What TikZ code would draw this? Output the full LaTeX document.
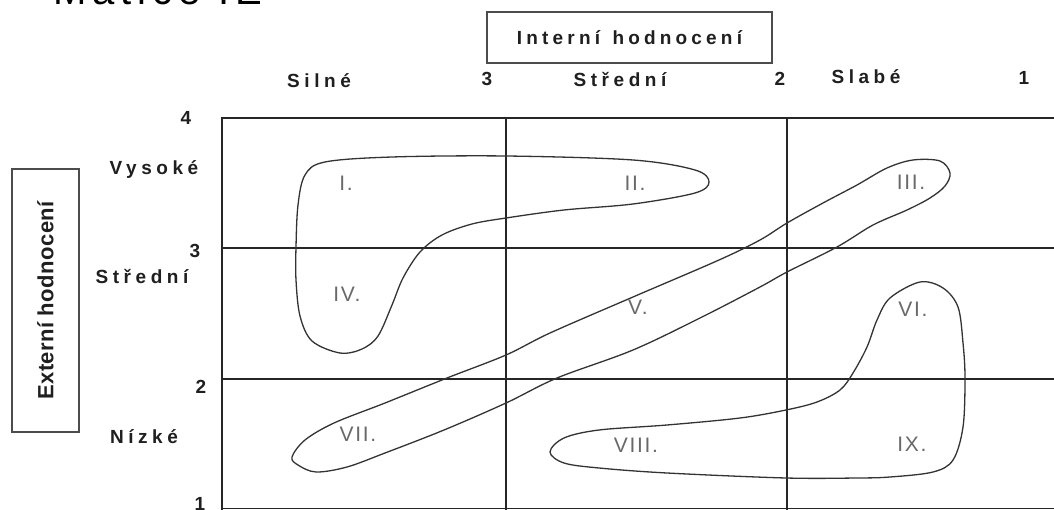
\documentclass[tikz,border=0pt]{standalone}
\usepackage{fontspec}
\setmainfont{Liberation Sans}
\newfontfamily\lsp[LetterSpace=24]{Liberation Sans}
\newfontfamily\lspb[LetterSpace=22]{Liberation Sans}
\newfontfamily\lspr[LetterSpace=8]{Liberation Sans}
\newfontfamily\lspe[LetterSpace=2]{Liberation Sans}
\newfontfamily\lsptitle[LetterSpace=15]{Liberation Sans}
\definecolor{romgray}{RGB}{105,105,105}
\begin{document}
\begin{tikzpicture}[x=1pt,y=-1pt,
  gridline/.style={line width=1.3pt, draw=black!85},
  blob/.style={line width=1.3pt, draw=black!80},
  axislab/.style={font=\lsp\bfseries\fontsize{19}{21}\selectfont, text=black!88, inner sep=0},
  axisnum/.style={font=\bfseries\fontsize{19}{21}\selectfont, text=black!88, inner sep=0},
  roman/.style={font=\lspr\fontsize{21}{24}\selectfont, text=romgray, inner sep=0},
  labelbox/.style={draw=black!70, line width=1.2pt, inner sep=0},
]
\useasboundingbox (0,0) rectangle (1054,510);
\fill[white] (0,0) rectangle (1054,510);

% title (clipped at the top edge, as in the reference)
\node[anchor=base west, font=\lsptitle\fontsize{40}{44}\selectfont, inner sep=0] (title) at (53,5) {Matice IE};

% grid
\draw[gridline] (1054,118) -- (222,118) -- (222,510);
\draw[gridline] (222,248) -- (1054,248);
\draw[gridline] (222,379) -- (1054,379);
\draw[gridline] (222,508.5) -- (1054,508.5);
\draw[gridline] (506,118) -- (506,510);
\draw[gridline] (787,118) -- (787,510);

% axis boxes
\node[labelbox, minimum width=285, minimum height=51,
      font=\lspb\bfseries\fontsize{19}{21}\selectfont, text=black!88] (ih) at (629.5,37.5) {Interní\hspace{3pt} hodnocení};
\node[labelbox, rotate=90, minimum width=263, minimum height=67,
      font=\lspe\bfseries\fontsize{22}{24}\selectfont, text=black!88] (eh) at (45.5,300.5) {Externí hodnocení};

% top axis labels
\node[axislab] (silne) at (319,81) {Silné};
\node[axisnum] (t3) at (487,79) {3};
\node[axislab] (stredt) at (620,80) {Střední};
\node[axisnum] (t2) at (780,79) {2};
\node[axislab] (slabe) at (866,77) {Slabé};
\node[axisnum] (t1) at (1024,78) {1};

% left axis labels
\node[axisnum] (l4) at (186,118) {4};
\node[axislab] (vys) at (154,170) {Vysoké};
\node[axisnum] (l3) at (195,251) {3};
\node[axislab] (stredl) at (142,277) {Střední};
\node[axisnum] (l2) at (201,387) {2};
\node[axislab] (nizke) at (144,437) {Nízké};
\node[axisnum] (l1) at (200,504) {1};

% blobs
\draw[blob] plot[smooth cycle, tension=0.55] coordinates {
 (340,353) (312,341) (300,316) (296,280) (296,247) (298,205) (305,175) (325,162)
 (392,157) (506,156) (633,160) (695,170) (709,182) (695,193) (633,204) (564,210)
 (506,218) (472,224) (442,235) (420,252) (403,278) (392,305) (378,336) (362,349)};

\draw[blob] plot[smooth cycle, tension=0.55] coordinates {
 (292,457) (305,440) (334,423) (385,403) (447,378) (506,355) (550,333) (633,297)
 (719,260) (760,240) (787,223) (823,203) (857,185) (887,168) (913,160) (940,161)
 (950,173) (945,186) (930,198) (907,210) (873,225) (837,247) (787,272) (760,287)
 (702,317) (633,350) (557,378) (506,403) (444,430) (385,453) (347,467) (316,472)
 (298,465)};

\draw[blob] plot[smooth cycle, tension=0.55] coordinates {
 (550,452) (564,438) (599,430) (667,425) (740,418) (786,410) (817,402) (840,390)
 (853,373) (867,347) (877,320) (890,298) (920,282) (943,288) (958,307) (963,343)
 (965,378) (963,427) (953,460) (933,472) (890,477) (857,478) (786,478) (667,473)
 (599,468) (564,463)};

% roman numerals
\node[roman] (r1) at (346,183) {I.};
\node[roman] (r2) at (635,183) {II.};
\node[roman] (r3) at (911,182) {III.};
\node[roman] (r4) at (347,294) {IV.};
\node[roman] (r5) at (638,307) {V.};
\node[roman] (r6) at (913,309) {VI.};
\node[roman] (r7) at (358,434) {VII.};
\node[roman] (r8) at (636,445) {VIII.};
\node[roman] (r9) at (912,444) {IX.};
\end{tikzpicture}
\end{document}
